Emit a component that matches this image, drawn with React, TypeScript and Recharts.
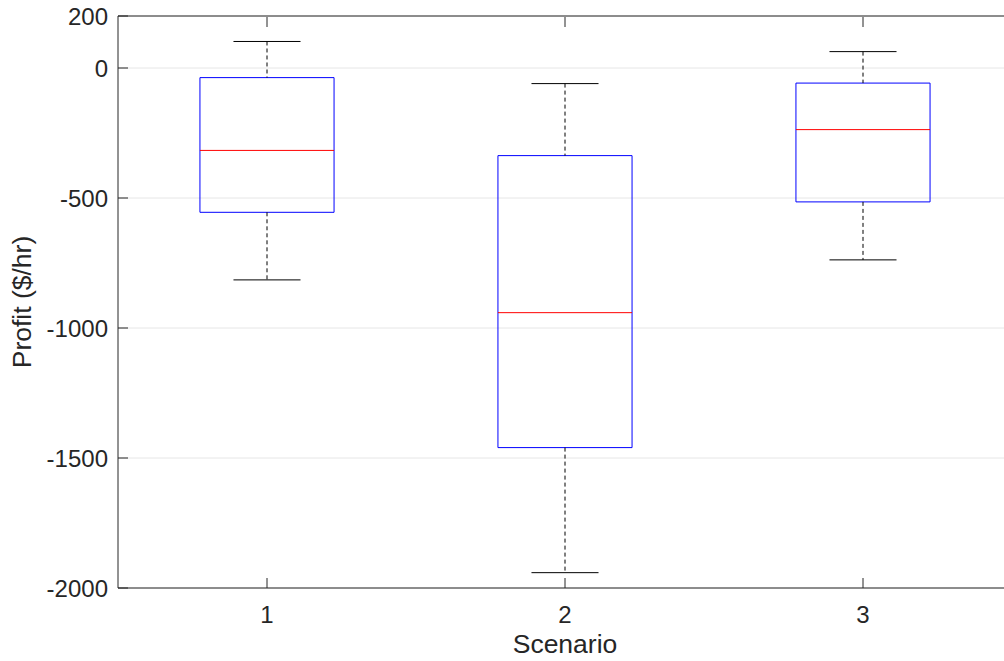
import { CartesianGrid, ComposedChart, Label, ReferenceArea, ReferenceLine, Scatter, XAxis, YAxis } from 'recharts'

// box plot stats per scenario ($/hr)
const scenarios = [1, 2, 3]
const whiskerHigh = [102, -60, 63]
const upperQuartile = [-37, -337, -58]
const medians = [-317, -941, -237]
const lowerQuartile = [-555, -1460, -515]
const whiskerLow = [-815, -1941, -738]

const yTicks = [-2000, -1500, -1000, -500, 0, 200]

const data = scenarios.map((s, i) => ({
  scenario: s,
  median: medians[i],
  q1: lowerQuartile[i],
  q3: upperQuartile[i],
  low: whiskerLow[i],
  high: whiskerHigh[i],
}))

const FONT = '"Liberation Sans", Arial, Helvetica, sans-serif'
const AXIS = '#262626'
const BOX_HALF = 0.225
const CAP_HALF = 0.1125

function LeftTick({ x, y, payload }: any) {
  return (
    <g>
      <line x1={x + 10} x2={x + 20} y1={y} y2={y} stroke={AXIS} />
      <text x={x} y={y} dy="0.36em" textAnchor="end" fill={AXIS} fontSize={24} fontFamily={FONT}>
        {payload.value}
      </text>
    </g>
  )
}

function RightTick({ x, y }: any) {
  return <line x1={x - 11} x2={x - 1} y1={y} y2={y} stroke={AXIS} />
}

function BottomTick({ x, y, payload }: any) {
  return (
    <g>
      <line x1={x} x2={x} y1={y - 18} y2={y - 28} stroke={AXIS} />
      <text x={x} y={y} dy="0.72em" textAnchor="middle" fill={AXIS} fontSize={24} fontFamily={FONT}>
        {payload.value}
      </text>
    </g>
  )
}

function TopTick({ x, y }: any) {
  return <line x1={x} x2={x} y1={y + 1} y2={y + 11} stroke={AXIS} />
}

export default function App() {
  return (
    <div style={{ position: 'fixed', left: 0, top: 0, width: 1004, height: 661, overflow: 'hidden', background: '#fff' }}>
      <ComposedChart width={1020} height={661} data={data} margin={{ top: 15, right: 7, bottom: 0, left: 0 }}>
        <CartesianGrid vertical={false} stroke="#e6e6e6" />
        <XAxis
          dataKey="scenario"
          type="number"
          domain={[0.5, 3.5]}
          ticks={scenarios}
          height={73}
          stroke={AXIS}
          tickLine={false}
          tickSize={0}
          tickMargin={18}
          tick={<BottomTick />}
        >
          <Label
            content={({ viewBox }: any) => (
              <text
                x={viewBox.x + viewBox.width / 2}
                y={653}
                textAnchor="middle"
                fill={AXIS}
                fontSize={26.5}
                fontFamily={FONT}
              >
                Scenario
              </text>
            )}
          />
        </XAxis>
        <XAxis
          xAxisId="top"
          orientation="top"
          dataKey="scenario"
          type="number"
          domain={[0.5, 3.5]}
          ticks={scenarios}
          height={1}
          stroke={AXIS}
          tickLine={false}
          tickSize={0}
          tickMargin={0}
          tick={<TopTick />}
        />
        <YAxis
          type="number"
          domain={[-2000, 200]}
          ticks={yTicks}
          width={118}
          stroke={AXIS}
          tickLine={false}
          tickSize={0}
          tickMargin={10}
          tick={<LeftTick />}
          interval={0}
        >
          <Label
            content={({ viewBox }: any) => {
              const cy = viewBox.y + viewBox.height / 2
              return (
                <text
                  x={31}
                  y={cy}
                  transform={`rotate(-90, 31, ${cy})`}
                  textAnchor="middle"
                  fill={AXIS}
                  fontSize={26.5}
                  fontFamily={FONT}
                >
                  Profit ($/hr)
                </text>
              )
            }}
          />
        </YAxis>
        <YAxis
          yAxisId="right"
          orientation="right"
          type="number"
          domain={[-2000, 200]}
          ticks={yTicks}
          width={1}
          stroke={AXIS}
          tickLine={false}
          tickSize={0}
          tickMargin={0}
          tick={<RightTick />}
          interval={0}
        />

        {data.map((d) => (
          <ReferenceLine
            key={`wh-${d.scenario}`}
            segment={[{ x: d.scenario, y: d.high }, { x: d.scenario, y: d.q3 }]}
            stroke="#000"
            strokeDasharray="4 3"
          />
        ))}
        {data.map((d) => (
          <ReferenceLine
            key={`wl-${d.scenario}`}
            segment={[{ x: d.scenario, y: d.q1 }, { x: d.scenario, y: d.low }]}
            stroke="#000"
            strokeDasharray="4 3"
          />
        ))}
        {data.map((d) => (
          <ReferenceLine
            key={`ch-${d.scenario}`}
            segment={[{ x: d.scenario - CAP_HALF, y: d.high }, { x: d.scenario + CAP_HALF, y: d.high }]}
            stroke="#000"
          />
        ))}
        {data.map((d) => (
          <ReferenceLine
            key={`cl-${d.scenario}`}
            segment={[{ x: d.scenario - CAP_HALF, y: d.low }, { x: d.scenario + CAP_HALF, y: d.low }]}
            stroke="#000"
          />
        ))}
        {data.map((d) => (
          <ReferenceArea
            key={`box-${d.scenario}`}
            x1={d.scenario - BOX_HALF}
            x2={d.scenario + BOX_HALF}
            y1={d.q1}
            y2={d.q3}
            fill="#fff"
            fillOpacity={0}
            stroke="#0000ff"
            strokeOpacity={1}
          />
        ))}
        {data.map((d) => (
          <ReferenceLine
            key={`med-${d.scenario}`}
            segment={[{ x: d.scenario - BOX_HALF, y: d.median }, { x: d.scenario + BOX_HALF, y: d.median }]}
            stroke="#ff0000"
          />
        ))}
        <Scatter dataKey="median" isAnimationActive={false} shape={() => <g />} />
      </ComposedChart>
    </div>
  )
}
